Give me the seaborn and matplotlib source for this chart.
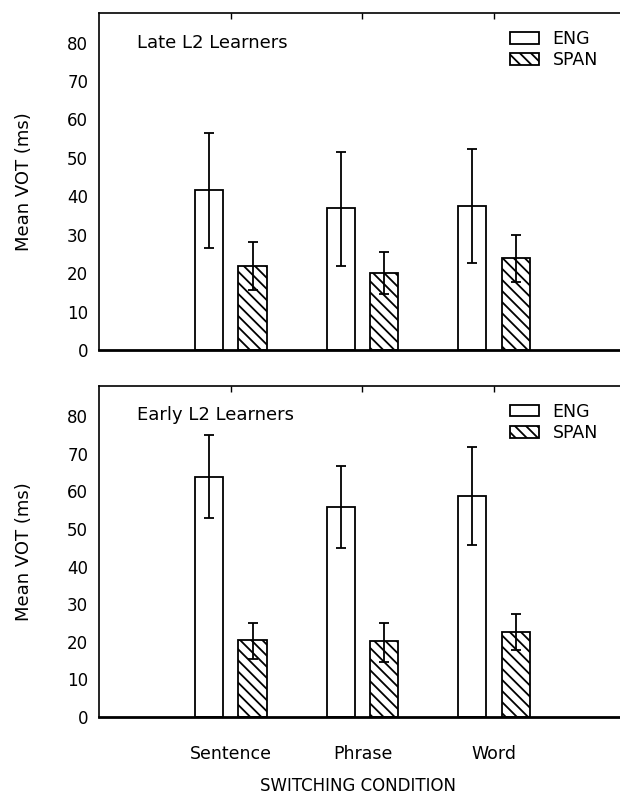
import pandas as pd
import matplotlib
matplotlib.use("Agg")
import matplotlib.pyplot as plt
from matplotlib.container import BarContainer
import seaborn as sns

# Switching conditions and languages
conditions = ["Sentence", "Phrase", "Word"]
languages = ["ENG", "SPAN"]

# Late L2 learners: means and error bar ends (ms)
late_eng_mean = [41.6, 36.9, 37.5]
late_eng_lo = [26.5, 21.9, 22.6]
late_eng_hi = [56.4, 51.6, 52.4]
late_span_mean = [21.9, 20.0, 23.9]
late_span_lo = [15.6, 14.6, 17.6]
late_span_hi = [28.0, 25.4, 29.8]

# Early L2 learners
early_eng_mean = [63.8, 55.9, 58.7]
early_eng_lo = [52.8, 44.9, 45.8]
early_eng_hi = [74.9, 66.8, 71.8]
early_span_mean = [20.5, 20.1, 22.7]
early_span_lo = [15.4, 14.5, 17.9]
early_span_hi = [25.0, 25.0, 27.5]

yticks = [0, 10, 20, 30, 40, 50, 60, 70, 80]


def draw_panel(ax, title, means, los, his, ymax, show_xlabels):
    df = pd.DataFrame({
        "condition": conditions * 2,
        "language": [languages[0]] * 3 + [languages[1]] * 3,
        "vot": means[0] + means[1],
    })
    sns.barplot(data=df, x="condition", y="vot", hue="language",
                order=conditions, hue_order=languages, errorbar=None,
                width=0.66, gap=0.35, palette=["white", "white"],
                edgecolor="black", linewidth=1.3, legend=False, ax=ax)

    # hatch the SPAN bars and add error bars
    bar_conts = [c for c in ax.containers if isinstance(c, BarContainer)]
    for i, cont in enumerate(bar_conts):
        for j, bar in enumerate(cont.patches):
            bar.set_facecolor("white")
            bar.set_edgecolor("black")
            if i == 1:
                bar.set_hatch("\\\\\\")
            cx = bar.get_x() + bar.get_width() / 2
            m = means[i][j]
            ax.errorbar(cx, m, yerr=[[m - los[i][j]], [his[i][j] - m]],
                        color="black", elinewidth=1.3, capsize=3.5,
                        capthick=1.3, zorder=5)

    ax.set_xlim(-1, 2.98)
    ax.set_ylim(0, ymax)
    ax.set_yticks(yticks)
    ax.set_xlabel("")
    ax.set_ylabel("Mean VOT (ms)", fontsize=13)
    ax.yaxis.set_label_coords(-(99.3 - 33) / 523.7, 0.5)
    ax.tick_params(axis="y", direction="in", length=4, width=1, labelsize=12,
                   pad=8, colors="black")
    ax.tick_params(axis="x", direction="in", length=4, width=1, top=True,
                   labelsize=12.5, pad=20, colors="black")
    if not show_xlabels:
        ax.tick_params(axis="x", labelbottom=False)
    for side in ["left", "top"]:
        ax.spines[side].set_linewidth(1.2)
        ax.spines[side].set_color("black")
    ax.spines["bottom"].set_linewidth(2.0)
    ax.spines["bottom"].set_color("black")
    ax.spines["right"].set_visible(False)

    ax.text(0.072, 0.912, title, transform=ax.transAxes, fontsize=13,
            va="center", ha="left", color="black")

    handles = [c.patches[0] for c in bar_conts]
    ax.legend(handles, languages, loc="upper left",
              bbox_to_anchor=(0.784, 0.95), frameon=False, fontsize=12.5,
              handlelength=1.7, handleheight=0.65, handletextpad=0.75,
              labelspacing=0.2, borderpad=0, borderaxespad=0)


def main():
    sns.set_theme(style="white")
    plt.rcParams["font.family"] = ["DejaVu Sans"]
    plt.rcParams["text.color"] = "black"
    plt.rcParams["axes.labelcolor"] = "black"
    plt.rcParams["hatch.linewidth"] = 1.3
    plt.rcParams["hatch.color"] = "black"

    fig = plt.figure(figsize=(6.2, 7.98), dpi=100)
    left = 99.3 / 620
    width = (623 - 99.3) / 620
    ax1 = fig.add_axes([left, 1 - 350 / 798, width, 337 / 798])
    ax2 = fig.add_axes([left, 1 - 717 / 798, width, 331 / 798])

    draw_panel(ax1, "Late L2 Learners",
               [late_eng_mean, late_span_mean],
               [late_eng_lo, late_span_lo],
               [late_eng_hi, late_span_hi], 87.7, False)
    draw_panel(ax2, "Early L2 Learners",
               [early_eng_mean, early_span_mean],
               [early_eng_lo, early_span_lo],
               [early_eng_hi, early_span_hi], 88.0, True)

    fig.text(358 / 620, 1 - 786 / 798, "SWITCHING CONDITION",
             fontsize=12, ha="center", va="center", color="black")

    fig.savefig("out.png", dpi=100, facecolor="white")
    plt.close(fig)


if __name__ == "__main__":
    main()
